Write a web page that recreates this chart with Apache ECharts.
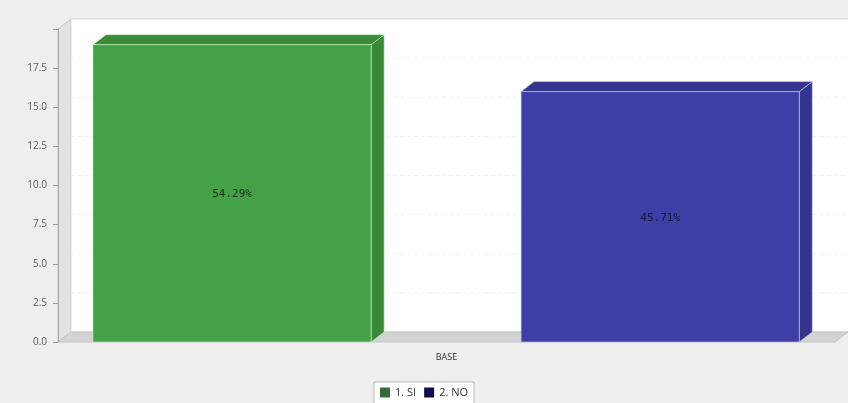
<!DOCTYPE html>
<html><head><meta charset="utf-8">
<script src="https://cdn.jsdelivr.net/npm/echarts@6/dist/echarts.min.js"></script>
<style>html,body{margin:0;padding:0;background:#eeeeee;}#c{width:848px;height:403px;}</style>
</head><body><div id="c"></div>
<script>
const categories = ['BASE'];
const seriesNames = ['1. SI', '2. NO'];
const siValues = [19];
const noValues = [16];
const percentLabels = ['54.29%', '45.71%'];
const yMin = 0, yMax = 20, yStep = 2.5;

const DX = 13, DY = -10;

function wallRenderer(params, api) {
  const cs = params.coordSys;
  const l = cs.x, t = cs.y, r = cs.x + cs.width, b = cs.y + cs.height;
  const children = [];
  children.push({type:'polygon', shape:{points:[[l,t],[l+DX,t+DY],[l+DX,b+DY],[l,b]]},
    style:{fill:'#e2e2e2', stroke:'#c8c8c8', lineWidth:1}});
  children.push({type:'rect', shape:{x:l+DX, y:t+DY, width:r-l+20, height:b-t},
    style:{fill:'#ffffff', stroke:'#d6d6d6', lineWidth:1}});
  for (let v = yStep; v < yMax; v += yStep) {
    const p = api.coord([0, v]);
    children.push({type:'line', shape:{x1:l+DX, y1:p[1]+DY, x2:r+DX+20, y2:p[1]+DY},
      style:{stroke:'#f1f1f1', lineWidth:1, lineDash:[4,3]}});
  }
  children.push({type:'polygon', shape:{points:[[l,b],[l+DX,b+DY],[r+DX,b+DY],[r,b]]},
    style:{fill:'#d3d3d3', stroke:'#c4c4c4', lineWidth:1}});
  return {type:'group', children};
}

function barRenderer(start, width, colors, labels) {
  return function(params, api) {
    const cat = api.value(0), val = api.value(1);
    const base = api.coord([cat, 0]);
    const top = api.coord([cat, val]);
    const band = api.size([1, 0])[0];
    const x0 = base[0] - band / 2 + band * start;
    const w = band * width;
    const ty = top[1], by = base[1];
    return {type:'group', children:[
      {type:'polygon', shape:{points:[[x0+w,ty],[x0+w+DX,ty+DY],[x0+w+DX,by+DY],[x0+w,by]]},
        style:{fill:colors.side, stroke:colors.edge, lineWidth:1}},
      {type:'polygon', shape:{points:[[x0,ty],[x0+DX,ty+DY],[x0+w+DX,ty+DY],[x0+w,ty]]},
        style:{fill:colors.top, stroke:colors.edge, lineWidth:1}},
      {type:'rect', shape:{x:x0, y:ty, width:w, height:by-ty},
        style:{fill:colors.front, stroke:colors.edge, lineWidth:1}},
      {type:'text', x:x0 + w/2, y:(ty+by)/2 + 1,
        style:{text:labels[params.dataIndex], font:'11px "DejaVu Sans Mono"', fill:colors.text, align:'center', verticalAlign:'middle'}}
    ]};
  };
}

const chart = echarts.init(document.getElementById('c'), null, {renderer:'canvas'});
chart.setOption({
  backgroundColor:'#eeeeee',
  animation:false,
  grid:{left:58, right:13, top:29, bottom:61},
  legend:{data:seriesNames, bottom:-1, left:'center', backgroundColor:'#ffffff', borderColor:'#b8b8b8', borderWidth:1,
    padding:[5,6,6,6], itemWidth:10, itemHeight:10, itemGap:8, icon:'rect',
    textStyle:{fontSize:11, color:'#333', fontFamily:'"Open Sans", sans-serif'}},
  xAxis:{type:'category', data:categories, axisLine:{show:false}, axisTick:{show:false},
    axisLabel:{fontSize:9, color:'#333', margin:11, fontFamily:'"Open Sans", sans-serif'}},
  yAxis:{type:'value', min:yMin, max:yMax, interval:yStep,
    axisLine:{show:true, lineStyle:{color:'#a8a8a8'}},
    axisTick:{show:true, length:5, lineStyle:{color:'#999'}},
    splitLine:{show:false},
    axisLabel:{fontSize:10, color:'#5a5a5a', margin:11, fontFamily:'"Open Sans", sans-serif',
      formatter:function(v){ return v >= yMax ? '' : v.toFixed(1); }}},
  series:[
    {type:'custom', name:'wall', silent:true, z:0, renderItem:wallRenderer, data:[[0, 0]]},
    {type:'custom', name:seriesNames[0], z:2, itemStyle:{color:'#386b3c'},
      renderItem:barRenderer(0.045, 0.358, {front:'#45a145', top:'#3b8b3b', side:'#388838', edge:'rgba(200,240,200,0.6)', text:'#16301a'}, [percentLabels[0]]),
      data:siValues.map((v,i)=>[i,v])},
    {type:'custom', name:seriesNames[1], z:2, itemStyle:{color:'#0f0f4e'},
      renderItem:barRenderer(0.596, 0.358, {front:'#3e3ea7', top:'#35358e', side:'#34348c', edge:'rgba(200,200,245,0.6)', text:'#15153a'}, [percentLabels[1]]),
      data:noValues.map((v,i)=>[i,v])}
  ]
});
</script></body></html>
